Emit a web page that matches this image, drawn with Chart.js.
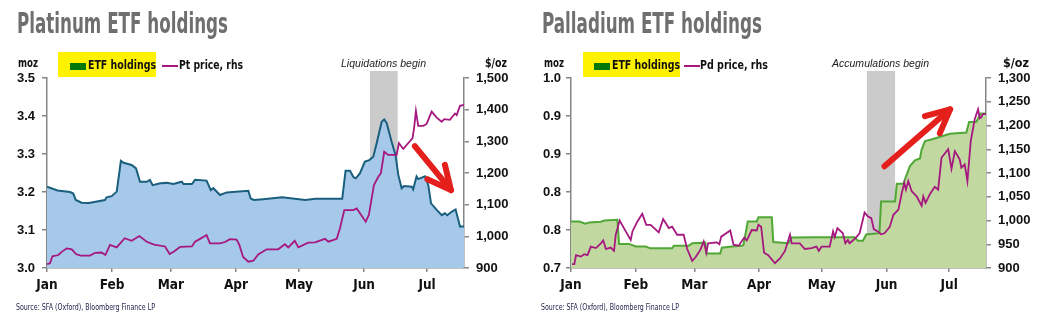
<!DOCTYPE html>
<html>
<head>
<meta charset="utf-8">
<script src="https://cdn.jsdelivr.net/npm/chart.js@4.4.1/dist/chart.umd.min.js"></script>
<style>
    body { margin: 0; background: #fff; }
    #wrap { position: relative; width: 1052px; height: 331px; overflow: hidden; font-family: "Liberation Sans", Arial, sans-serif; }
    .panel { position: absolute; top: 0; width: 526px; height: 331px; }
    .panel canvas { position: absolute; left: 0; top: 0; }
    .txt { position: absolute; white-space: nowrap; transform-origin: 0 0; }
    .title { font: bold 28px/28px "Liberation Sans Narrow", "DejaVu Sans Condensed", sans-serif; color: #6f6f6f; top: 9.6px; }
    .unit { font: bold 12px/12px "Liberation Sans Narrow", "DejaVu Sans Condensed", sans-serif; color: #111; top: 57px; }
    .leg { font: bold 12.5px/12.5px "Liberation Sans Narrow", "DejaVu Sans Condensed", sans-serif; color: #111; top: 59.4px; }
    .note { font: italic 10.5px/10.5px "Liberation Sans", Arial, sans-serif; color: #222; top: 57.8px; }
    .src { font: 8px/8px "Liberation Sans Narrow", "DejaVu Sans Condensed", sans-serif; color: #1b1f4a; top: 304px; }
    .hl { position: absolute; background: #fff200; top: 52px; height: 25px; }
    .swatch { position: absolute; background: #00780a; top: 63px; width: 16px; height: 7px; }
    .pline { position: absolute; background: #a6177f; top: 65px; width: 16px; height: 2px; }
</style>
</head>
<body>
<div id="wrap">
    <div class="panel" style="left:0">
        <canvas id="ptChart" width="526" height="331"></canvas>
        <div class="txt title" style="left:16.7px" data-w="211">Platinum ETF holdings</div>
        <div class="txt unit" style="left:18px" data-w="20">moz</div>
        <div class="txt unit" style="left:485px" data-w="22">$/oz</div>
        <div class="hl" style="left:58px;width:98px"></div>
        <div class="swatch" style="left:70px"></div>
        <div class="txt leg" style="left:88px" data-w="68">ETF holdings</div>
        <div class="pline" style="left:162px"></div>
        <div class="txt leg" style="left:179px" data-w="64">Pt price, rhs</div>
        <div class="txt note" style="left:341px" data-w="85">Liquidations begin</div>
        <div class="txt src" style="left:16px" data-w="139">Source: SFA (Oxford), Bloomberg Finance LP</div>
    </div>
    <div class="panel" style="left:526px">
        <canvas id="pdChart" width="526" height="331"></canvas>
        <div class="txt title" style="left:16px" data-w="220">Palladium ETF holdings</div>
        <div class="txt unit" style="left:18px" data-w="20">moz</div>
        <div class="txt unit" style="left:477px" data-w="26">$/oz</div>
        <div class="hl" style="left:57px;width:97px"></div>
        <div class="swatch" style="left:68px"></div>
        <div class="txt leg" style="left:85.5px" data-w="68">ETF holdings</div>
        <div class="pline" style="left:158px"></div>
        <div class="txt leg" style="left:173.5px" data-w="68">Pd price, rhs</div>
        <div class="txt note" style="left:306px" data-w="97">Accumulations begin</div>
        <div class="txt src" style="left:15px" data-w="138">Source: SFA (Oxford), Bloomberg Finance LP</div>
    </div>
</div>
<script>
// x values are days since 1 Jan
const monthTicks = [0, 31, 59, 90, 120, 151, 181];
const monthLabels = ['Jan', 'Feb', 'Mar', 'Apr', 'May', 'Jun', 'Jul'];
const xMax = 198.6;

const ptEtfTicks = [3.0, 3.1, 3.2, 3.3, 3.4, 3.5];
const ptPriceTicks = [900, 1000, 1100, 1200, 1300, 1400, 1500];
const pdEtfTicks = [0.7, 0.76, 0.82, 0.88, 0.94, 1.0];
const pdPriceTicks = [900, 950, 1000, 1050, 1100, 1150, 1200, 1250, 1300];

// Platinum ETF holdings (moz)
const ptEtfDays = [
    0, 5, 11, 12.5, 13.7, 16.5, 20, 27.6, 28.4, 30.8,
    33.2, 35.2, 36.5, 40.3, 42.4, 44.3, 47.5, 49, 50.3, 54,
    57, 60.2, 64.2, 65, 69, 70.5, 76, 78, 79.2, 82.4,
    85.6, 95.9, 97, 98.5, 103, 112, 118, 123, 128, 140.6,
    142.2, 144.3, 146, 147.1, 149, 151.4, 153.5, 155.4, 157, 159.4,
    160.6, 161.8, 164.1, 166, 167.3, 168.9, 170, 173.7, 174.4, 176,
    176.8, 180, 181.6, 182.9, 185.6, 188, 189.5, 190.6, 192.7, 194.6,
    196.7, 198.6
];
const ptEtf = [
    3.214, 3.204, 3.200, 3.196, 3.179, 3.172, 3.171, 3.179, 3.186, 3.189,
    3.201, 3.282, 3.277, 3.271, 3.262, 3.227, 3.227, 3.232, 3.218, 3.223,
    3.224, 3.221, 3.227, 3.221, 3.221, 3.232, 3.230, 3.205, 3.210, 3.192,
    3.199, 3.203, 3.183, 3.179, 3.181, 3.186, 3.182, 3.179, 3.182, 3.182,
    3.256, 3.256, 3.239, 3.236, 3.249, 3.280, 3.284, 3.293, 3.328, 3.385,
    3.391, 3.381, 3.333, 3.297, 3.245, 3.210, 3.216, 3.214, 3.207, 3.241,
    3.234, 3.241, 3.218, 3.170, 3.153, 3.139, 3.144, 3.139, 3.148, 3.154,
    3.109, 3.109
];

// Platinum price ($/oz)
const ptPriceDays = [
    0, 1.4, 2.6, 5.4, 7, 9.4, 11.8, 13.8, 16, 20.5,
    22.9, 26, 27.8, 30, 33.2, 37, 40.3, 44, 47.5, 51,
    56.2, 58.4, 60.5, 63.4, 69, 70.5, 72.9, 76, 77.6, 82.4,
    84.8, 87.1, 90.3, 91.6, 93.4, 95.9, 98.3, 100.6, 104.6, 110.1,
    113.3, 114.9, 118, 119.7, 124.4, 127.6, 132.4, 134, 138, 139.5,
    141.6, 145.9, 147.5, 151.8, 153.3, 155.7, 157.8, 159, 160.6, 162.5,
    166.5, 167.6, 169.7, 172, 174.1, 174.9, 175.7, 176.8, 179.2, 180.8,
    183.2, 185.6, 188, 189.2, 191.9, 194.3, 195.1, 196.7, 198.6
];
const ptPrice = [
    912, 915, 937, 941, 951, 962, 959, 944, 939, 939,
    948, 949, 941, 973, 965, 994, 986, 1001, 983, 974,
    968, 944, 952, 967, 968, 983, 992, 1004, 978, 978,
    982, 991, 990, 973, 935, 920, 923, 943, 959, 959,
    975, 965, 986, 965, 980, 981, 992, 983, 992, 1025,
    1083, 1083, 1088, 1046, 1068, 1162, 1188, 1199, 1267, 1257,
    1257, 1294, 1276, 1294, 1310, 1346, 1396, 1349, 1349, 1355,
    1394, 1375, 1362, 1370, 1368, 1388, 1383, 1412, 1415
];

// Palladium ETF holdings (moz)
const pdEtfDays = [
    0, 4, 6.8, 8.7, 14.3, 15.9, 22.2, 23, 27.8, 31,
    35.7, 38, 48.4, 49.2, 56.3, 58, 64.3, 64.8, 71.4, 72.2,
    77, 81.7, 82.5, 84.6, 88.9, 89.7, 96.1, 96.8, 104, 105.6,
    116.7, 135.7, 137.3, 139.7, 141.3, 147.6, 148.4, 155.1, 155.9, 159,
    162.2, 164.6, 167, 167.8, 169.4, 172.5, 181.3, 189.2, 190.5, 194,
    196, 198.6
];
const pdEtf = [
    0.7735, 0.7735, 0.770, 0.772, 0.773, 0.775, 0.776, 0.738, 0.738, 0.734,
    0.734, 0.731, 0.731, 0.735, 0.735, 0.739, 0.740, 0.723, 0.723, 0.732,
    0.734, 0.735, 0.736, 0.7735, 0.7735, 0.780, 0.780, 0.741, 0.739, 0.748,
    0.7487, 0.7487, 0.743, 0.743, 0.753, 0.755, 0.805, 0.805, 0.833, 0.833,
    0.861, 0.870, 0.873, 0.887, 0.9005, 0.903, 0.912, 0.914, 0.9307, 0.931,
    0.944, 0.944
];

// Palladium price ($/oz)
const pdPriceDays = [
    0.5, 1.6, 2.4, 4.8, 6.3, 7.9, 9.5, 11.9, 14.3, 15.4,
    16.7, 19, 20.6, 21.4, 23.3, 26.2, 28.6, 29.4, 31.8, 34.1,
    36, 38.1, 42, 44.1, 46.8, 48.4, 50.8, 53.9, 55.6, 58,
    59.5, 61.9, 63.5, 64.8, 65.6, 69.8, 71, 71.9, 76.2, 77.8,
    80.2, 82.9, 84.1, 86.5, 88.9, 89.7, 91, 92.4, 94.4, 97.6,
    100, 102.4, 104.8, 105.6, 109.5, 111.9, 115.1, 117.5, 118.6, 119.9,
    123.8, 125.4, 126.2, 127.5, 130.1, 131.3, 132.5, 133.3, 135.7, 138.1,
    140.5, 142, 143.7, 144.9, 146.8, 148.4, 150, 152.5, 154.3, 156.7,
    158.3, 159.5, 160.3, 161.4, 163, 165.4, 167.8, 168.6, 169.7, 171.8,
    174.1, 175.7, 177.3, 180.5, 182.1, 183.7, 186, 186.8, 188.4, 189.7,
    191.3, 193.2, 194.8, 195.6, 196.3, 197.1, 198.6
];
const pdPrice = [
    908, 908, 927, 924, 929, 927, 945, 942, 952, 958,
    940, 943, 936, 970, 1000, 977, 959, 977, 998, 1014,
    991, 991, 975, 1003, 984, 987, 970, 970, 940, 915,
    922, 938, 956, 932, 952, 954, 950, 966, 979, 949,
    947, 964, 958, 980, 979, 991, 987, 932, 927, 910,
    920, 936, 970, 952, 952, 940, 942, 945, 936, 945,
    945, 977, 965, 984, 973, 952, 959, 952, 961, 973,
    1017, 1009, 1005, 982, 977, 971, 973, 986, 1012, 1023,
    1058, 1079, 1065, 1083, 1062, 1051, 1031, 1051, 1037, 1056,
    1071, 1065, 1132, 1150, 1109, 1146, 1129, 1111, 1118, 1083,
    1167, 1213, 1234, 1215, 1217, 1224, 1224
];

// Shaded periods (days) and hand-drawn arrows ([day, price] from -> to)
const ptBand = [153.8, 167];
const pdBand = [141.6, 155.1];
const ptArrow = [[175.2, 1285], [192.4, 1146]];
const pdArrow = [[150, 1114], [181.4, 1234]];

const axisGray = '#868686';
const numFont = { family: '"Liberation Sans", Arial, sans-serif', size: 13, weight: 'bold' };
const monthFont = { family: '"Liberation Sans Narrow", "DejaVu Sans Condensed", sans-serif', size: 13.5, weight: 'bold' };

function toPoints(days, vals) {
    return days.map((d, i) => ({ x: d, y: vals[i] }));
}

function fixedTicks(values) {
    return scale => { scale.ticks = values.map(v => ({ value: v })); };
}

// Grey shaded period, drawn behind the area
const bandPlugin = {
    id: 'band',
    beforeDatasetsDraw(chart, args, opts) {
        const { ctx, chartArea, scales } = chart;
        const x0 = scales.x.getPixelForValue(opts.range[0]);
        const x1 = scales.x.getPixelForValue(opts.range[1]);
        ctx.save();
        ctx.fillStyle = '#cbcbcb';
        ctx.fillRect(x0, chartArea.top - 7, x1 - x0, chartArea.bottom - chartArea.top + 7);
        ctx.restore();
    }
};

// Red marker arrow on top
const arrowPlugin = {
    id: 'arrow',
    afterDatasetsDraw(chart, args, opts) {
        const { ctx, scales } = chart;
        const x0 = scales.x.getPixelForValue(opts.from[0]);
        const y0 = scales.y1.getPixelForValue(opts.from[1]);
        const x1 = scales.x.getPixelForValue(opts.to[0]);
        const y1 = scales.y1.getPixelForValue(opts.to[1]);
        const ang = Math.atan2(y1 - y0, x1 - x0);
        const len = 26;
        ctx.save();
        ctx.strokeStyle = '#e5201c';
        ctx.lineWidth = 6;
        ctx.lineCap = 'round';
        ctx.lineJoin = 'round';
        ctx.beginPath();
        ctx.moveTo(x0, y0);
        ctx.lineTo(x1, y1);
        ctx.stroke();
        ctx.beginPath();
        ctx.moveTo(x1 - len * Math.cos(ang - 0.45), y1 - len * Math.sin(ang - 0.45));
        ctx.lineTo(x1, y1);
        ctx.lineTo(x1 - len * Math.cos(ang + 0.45), y1 - len * Math.sin(ang + 0.45));
        ctx.stroke();
        ctx.restore();
    }
};

function buildChart(id, s) {
    const ctx = document.getElementById(id).getContext('2d');
    return new Chart(ctx, {
        type: 'line',
        data: {
            datasets: [
                {
                    label: 'ETF holdings',
                    data: toPoints(s.etfDays, s.etf),
                    yAxisID: 'y',
                    borderColor: s.lineColor,
                    backgroundColor: s.fillColor,
                    borderWidth: 2,
                    fill: 'start',
                    pointRadius: 0,
                    tension: 0,
                    order: 2
                },
                {
                    label: s.priceLabel,
                    data: toPoints(s.priceDays, s.price),
                    yAxisID: 'y1',
                    borderColor: '#a6177f',
                    borderWidth: 1.8,
                    fill: false,
                    pointRadius: 0,
                    tension: 0,
                    order: 1
                }
            ]
        },
        options: {
            responsive: false,
            maintainAspectRatio: false,
            animation: false,
            layout: { padding: { top: 78, left: 0, right: 0, bottom: 0 } },
            plugins: {
                legend: { display: false },
                tooltip: { enabled: false },
                band: { range: s.band },
                arrow: { from: s.arrow[0], to: s.arrow[1] }
            },
            scales: {
                x: {
                    type: 'linear',
                    min: 0,
                    max: xMax,
                    afterBuildTicks: fixedTicks(monthTicks),
                    afterFit: scale => { scale.height = 63; },
                    grid: { drawOnChartArea: false, drawTicks: true, tickLength: 4, color: axisGray, lineWidth: 1.5 },
                    border: { color: axisGray, width: 1.5 },
                    ticks: {
                        autoSkip: false,
                        maxRotation: 0,
                        padding: 5,
                        color: '#111',
                        font: monthFont,
                        callback: value => monthLabels[monthTicks.indexOf(value)]
                    }
                },
                y: {
                    position: 'left',
                    min: s.etfTicks[0],
                    max: s.etfTicks[s.etfTicks.length - 1],
                    afterBuildTicks: fixedTicks(s.etfTicks),
                    afterFit: scale => { scale.width = s.leftW; },
                    grid: { drawOnChartArea: false, drawTicks: true, tickLength: 5, color: axisGray, lineWidth: 1.5 },
                    border: { color: axisGray, width: 1.5 },
                    ticks: {
                        autoSkip: false,
                        padding: s.leftPad,
                        color: '#111',
                        font: numFont,
                        callback: value => value.toFixed(1)
                    }
                },
                y1: {
                    position: 'right',
                    min: s.priceTicks[0],
                    max: s.priceTicks[s.priceTicks.length - 1],
                    afterBuildTicks: fixedTicks(s.priceTicks),
                    afterFit: scale => { scale.width = s.rightW; },
                    grid: { drawOnChartArea: false, drawTicks: true, tickLength: 5, color: axisGray, lineWidth: 1.5 },
                    border: { color: axisGray, width: 1.5 },
                    ticks: {
                        autoSkip: false,
                        padding: 7,
                        color: '#111',
                        font: numFont,
                        callback: value => value.toLocaleString('en-US')
                    }
                }
            }
        },
        plugins: [bandPlugin, arrowPlugin]
    });
}

// Squeeze each text label to the width it has in the original
document.querySelectorAll('[data-w]').forEach(el => {
    const w = el.getBoundingClientRect().width;
    if (w > 0) el.style.transform = `scaleX(${Number(el.dataset.w) / w})`;
});

buildChart('ptChart', {
    etfDays: ptEtfDays, etf: ptEtf,
    priceDays: ptPriceDays, price: ptPrice,
    priceLabel: 'Pt price, rhs',
    etfTicks: ptEtfTicks, priceTicks: ptPriceTicks,
    lineColor: '#1b5f7e', fillColor: '#a7c9e9',
    band: ptBand, arrow: ptArrow,
    leftW: 47, leftPad: 7, rightW: 62
});

buildChart('pdChart', {
    etfDays: pdEtfDays, etf: pdEtf,
    priceDays: pdPriceDays, price: pdPrice,
    priceLabel: 'Pd price, rhs',
    etfTicks: pdEtfTicks, priceTicks: pdPriceTicks,
    lineColor: '#50a736', fillColor: '#c1d9a0',
    band: pdBand, arrow: pdArrow,
    leftW: 45, leftPad: 5, rightW: 66
});
</script>
</body>
</html>
